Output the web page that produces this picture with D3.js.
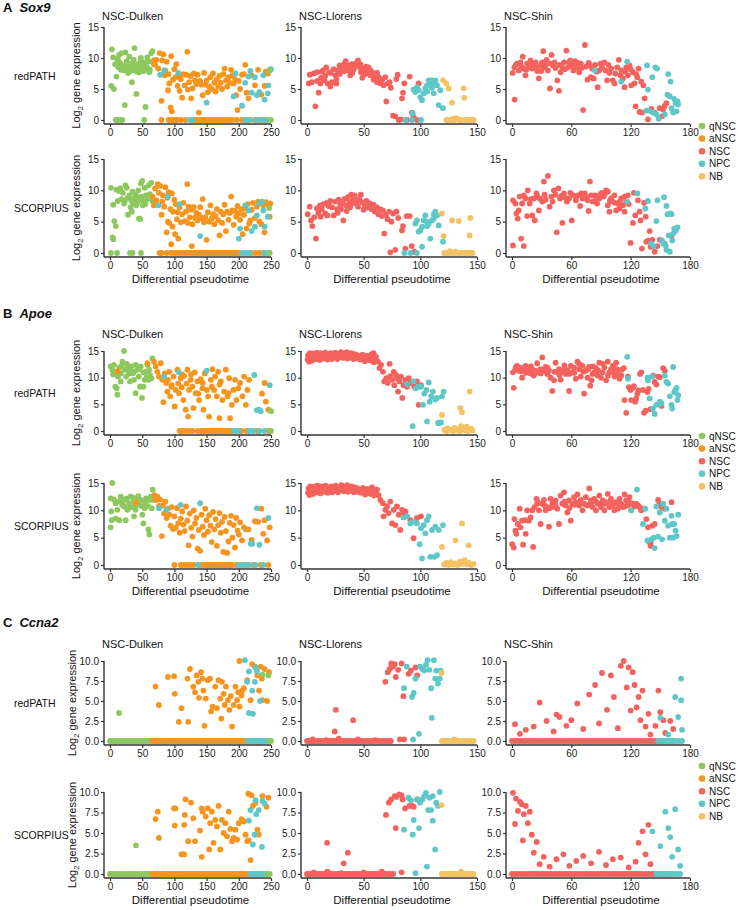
<!DOCTYPE html>
<html>
<head>
<meta charset="utf-8">
<script src="https://cdn.jsdelivr.net/npm/d3@7"></script>
<style>
  body { margin: 0; background: #fff; }
  svg { display: block; font-family: "Liberation Sans", Arial, sans-serif; }
</style>
</head>
<body>
<script>
// helpers to tag points with their cell type
function tag(t, list) { return list.map(d => [d[0], d[1], t]); }
function zeros(t, xs) { return xs.map(x => [x, 0, t]); }

const cellTypes = ["q", "a", "n", "p", "b"];
const cellLabels = ["qNSC", "aNSC", "NSC", "NPC", "NB"];
const cellColors = ["#8DC85F", "#F7941D", "#F4625E", "#5EC7C8", "#F3C262"];

const dulkenTicks = [0, 50, 100, 150, 200, 250];
const llorensTicks = [0, 50, 100, 150];
const shinTicks = [0, 60, 120, 180];
const sox9Ticks = [0, 5, 10, 15];
const apoeTicks = [0, 5, 10, 15];
const ccna2Ticks = [0, 2.5, 5, 7.5, 10];

// ---------------- Sox9 ----------------
const sox9DulkenRed = [
  ...tag("q", [[3,11.4],[2,5.5],[6,5.0],[5,10.1],[8,9.0],[10,7.0],[12,9.8],[14,10.5],[16,9.2],[18,10.8],[20,8.8],[22,8.0],[24,10.9],[26,9.5],[28,8.4],[30,10.2],[32,8.8],[34,6.1],[35,8.2],[37,9.7],[38,11.6],[40,8.6],[41,4.2],[42,7.8],[44,9.0],[46,8.3],[48,10.0],[50,8.7],[52,7.9],[54,9.3],[55,2.1],[57,8.5],[58,10.1],[60,9.4],[62,8.1],[64,10.8],[66,11.1],[68,9.0],[23,2.4],[28,7.6],[45,7.7],[36,8.0],[31,7.9],[39,8.9],[49,8.1],[59,8.3],[13,8.5],[17,8.1],[25,8.6],[33,9.1],[43,8.4],[47,9.4],[53,8.2],[61,7.7]]),
  ...zeros("q", [9,12,15,19,53]),
  ...tag("a", [[68,9.6],[70,8.9],[72,9.7],[75,8.3],[77,10.8],[80,3.1],[81,9.6],[83,10.6],[85,7.2],[86,8.0],[88,9.4],[90,4.8],[91,7.4],[92,5.9],[94,2.0],[95,10.3],[96,1.4],[98,6.5],[100,8.2],[102,6.9],[103,9.0],[105,5.5],[107,7.2],[108,4.7],[110,6.6],[112,3.6],[114,7.4],[116,5.6],[118,7.3],[120,11.0],[121,4.9],[123,6.1],[125,7.1],[126,3.5],[128,5.1],[130,7.5],[132,6.4],[134,5.8],[136,7.3],[138,1.2],[140,6.3],[142,5.7],[144,4.0],[146,7.6],[148,5.7],[150,6.4],[152,4.5],[154,5.4],[156,6.9],[158,5.0],[160,7.5],[162,6.0],[164,4.6],[166,6.6],[168,5.4],[170,7.1],[172,6.0],[174,5.0],[176,7.4],[178,8.3],[180,6.4],[182,5.4],[184,6.9],[186,6.0],[188,8.1],[190,7.2],[192,5.9],[194,6.6],[196,4.0],[198,1.6],[200,6.3],[202,5.0],[205,7.3],[208,7.4],[210,8.9],[212,4.4],[215,3.5],[220,7.2],[225,5.6],[230,8.1],[235,4.1],[240,5.5],[242,7.8],[245,7.5],[248,8.1]]),
  ...zeros("a", [80,91,96,100,104,110,117,130,134,138,142,146,150,154,158,162,166,170,174,178,182,186,190,197,205,210,215,225,232,240]),
  ...tag("p", [[84,8.0],[78,7.3],[106,7.6],[150,2.8],[192,3.8],[195,7.5],[205,2.3],[210,6.0],[215,7.0],[218,7.9],[220,4.4],[225,6.9],[228,4.0],[232,4.5],[238,7.2],[240,3.3],[245,4.3],[246,5.6],[250,8.2]]),
  ...zeros("p", [124,128,210,218,228,236,244]),
  ...tag("q", [[250,0],[248,8.0]])
];

const sox9DulkenScorp = [
  ...tag("q", [[1.5,10.4],[5,7.7],[6.7,5.1],[9,4.3],[4,2.5],[5,2.2],[10,10.1],[12,8.3],[14,9.9],[16,10.3],[18,8.6],[20,9.6],[22,7.9],[24,10.8],[26,10.4],[27,8.8],[28,6.1],[30,9.2],[32,7.3],[33,8.4],[35,9.8],[36,7.9],[38,8.7],[40,9.3],[41,7.6],[43,8.1],[44,10.0],[45,5.5],[46,8.5],[47,5.4],[48,11.1],[49,9.0],[50,11.5],[51,7.6],[52,8.3],[54,10.4],[55,7.8],[56,9.2],[58,8.6],[60,10.8],[62,9.4],[64,11.2],[66,8.3],[23,8.3],[34,6.6],[39,8.0],[42,8.9]]),
  ...zeros("q", [1.5,11,31,35,48]),
  ...tag("a", [[66,9.0],[68,7.6],[70,10.3],[72,8.4],[74,11.0],[76,9.6],[78,10.7],[80,6.1],[81,8.2],[82,9.2],[84,7.4],[86,10.5],[88,3.3],[89,8.8],[90,5.0],[91,9.7],[92,4.8],[94,7.0],[95,1.4],[96,9.5],[97,4.2],[98,6.6],[100,8.5],[101,3.0],[102,7.8],[104,5.4],[105,6.5],[106,2.3],[108,7.3],[110,4.9],[112,6.2],[114,8.0],[116,5.1],[118,6.6],[120,11.0],[121,4.8],[122,7.4],[124,5.7],[126,6.9],[127,1.1],[128,4.6],[130,7.3],[132,5.6],[134,6.4],[136,5.2],[138,6.1],[140,7.3],[142,5.6],[144,8.6],[146,4.9],[148,5.7],[150,2.1],[152,6.5],[154,5.0],[156,7.6],[158,5.5],[160,6.2],[162,4.6],[164,5.9],[166,7.0],[168,5.2],[170,2.8],[172,6.6],[174,4.8],[176,6.2],[178,7.7],[180,3.5],[182,6.6],[184,5.3],[186,6.4],[188,9.0],[190,6.8],[192,4.5],[194,6.7],[196,5.8],[198,7.5],[200,6.3],[202,5.3],[204,7.0],[206,3.0],[208,6.1],[210,7.1],[212,3.9],[214,7.8],[216,4.7],[218,5.2],[220,6.9],[222,8.0],[225,5.6],[228,7.4],[230,8.2],[232,5.0],[235,4.6],[238,7.6],[240,3.3],[242,8.1],[245,7.8],[248,5.8],[249,7.9]]),
  ...zeros("a", [77,80,88,95,100,104,108,113,117,122,127,131,134,137,140,143,146,149,152,155,158,161,164,167,170,173,176,179,182,185,188,191,194,197,200,220,226,232,238]),
  ...tag("p", [[90,9.0],[75,7.6],[108,7.8],[140,2.7],[200,2.3],[202,3.9],[210,7.6],[215,6.8],[220,3.5],[225,4.2],[228,6.0],[232,7.9],[238,6.8],[240,4.2],[245,5.8],[236,8.2]]),
  ...zeros("p", [205,209,213,217,240,244]),
  ...tag("q", [[248,0],[247,7.2]])
];

const sox9LlorensRed = [
  ...tag("n", [[1.5,5.9],[2.4,7.3],[4.4,6.1],[5.9,7.5],[7.4,2.2],[8.8,7.7],[10.3,4.4],[11.8,5.9],[12.4,6.8],[14.1,8.0],[15.3,6.4],[17,8.5],[18.2,5.9],[19.4,7.7],[20.6,5.4],[22,6.1],[23.5,8.2],[25,7.2],[25.9,5.9],[27,8.0],[28.8,8.8],[30,7.9],[31.8,8.2],[32.9,9.0],[34.1,9.5],[35.3,8.5],[36.2,8.0],[37.4,8.8],[38.2,7.2],[39.7,9.0],[41.2,8.2],[42.6,8.8],[44,9.3],[45,9.6],[46.5,8.5],[47.6,7.7],[48.8,6.8],[50,8.2],[51.5,7.4],[53,8.0],[54.4,8.5],[55.9,7.2],[57.4,7.7],[58.8,6.5],[60.3,7.3],[61.8,6.1],[63.2,6.9],[64.7,5.9],[66.2,6.4],[67.6,5.6],[69.1,6.9],[70,3.0],[71.2,5.9],[72.9,6.1],[74,5.2],[75.9,0.7],[77.9,0.6],[78.8,6.6],[80,7.3],[80.9,0],[82.9,0.1],[83.8,3.5],[84.7,4.4],[85.9,5.9],[88.2,0],[90.6,7.0],[92.6,1.2],[94,0.5],[97,0],[98.5,5.9],[21,7.6],[26,6.6],[29,7.4],[33,7.9],[38,8.4],[40,7.6],[43,9.1],[47,9.0],[49,7.8],[52,8.6],[56,8.0],[59,7.1],[62,7.6],[65,6.6],[16,7.1],[13,7.8],[9,6.3]]),
  ...tag("p", [[94,4.9],[95.6,4.5],[97,5.3],[98.5,4.8],[100,3.7],[101.5,3.2],[103,4.3],[104.4,5.1],[105.9,5.6],[107.4,6.4],[108.8,5.9],[110.3,5.2],[111.8,4.3],[113.2,6.4],[114.7,5.6],[116.2,2.4],[117.6,4.8],[120,1.9],[93.2,1.1],[106,4.6],[110,6.4],[112,5.6]]),
  ...zeros("p", [86.8,92.6,100.6]),
  ...tag("b", [[120,6.4],[122.9,5.9],[125,5.1],[127.9,2.8],[138.2,5.1],[138.8,3.6],[132,0.3],[129,0.2]]),
  ...zeros("b", [123,125,127,130,134,136,139,141,143,145,147])
];

const sox9LlorensScorp = [
  ...tag("n", [[0.6,6.2],[2.4,7.4],[3.5,5.2],[4.7,4.3],[6.5,5.7],[7.9,2.3],[8.8,7.1],[10,6.4],[11.5,7.6],[13,7.0],[14.5,7.8],[16,6.3],[17.5,8.0],[19,7.5],[20.5,8.3],[22,7.3],[23.5,6.0],[25,8.2],[26.5,7.0],[28,8.5],[29.5,7.7],[31,8.1],[32,5.2],[33,8.6],[34.5,7.6],[36,8.9],[37.5,8.2],[39,9.3],[40,7.9],[41,8.7],[42,9.2],[43.5,8.0],[45,7.4],[46,8.6],[47.5,9.3],[48.5,8.1],[50,6.9],[51,7.7],[52.5,8.3],[54,7.3],[55.5,7.9],[57,7.0],[58.5,7.7],[60,6.6],[61.5,7.3],[63,6.2],[64.5,7.0],[66,5.9],[67,6.8],[68.2,3.1],[69.5,6.1],[71,5.4],[72.5,6.6],[73.5,0.1],[74.5,5.0],[76,6.3],[77.9,0.5],[79,6.6],[80.5,5.6],[83.8,3.6],[84.7,4.3],[86.8,0.7],[88,5.9],[90.6,5.9],[92.4,1.1],[94.7,0.2],[27,6.4],[35,6.7],[44,8.4],[38,7.3],[53,7.6],[30,7.0],[18,6.0],[12,5.8]]),
  ...tag("p", [[95.6,4.7],[97,5.2],[98.5,3.4],[100,3.6],[101.5,4.2],[103,5.2],[104.4,6.0],[105.9,5.0],[107.4,4.7],[108.8,2.3],[110.3,5.2],[111.8,5.5],[113.2,6.6],[114.7,6.0],[116.2,4.4],[120,1.8],[101.5,1.0],[106,4.3],[112,6.2]]),
  ...zeros("p", [85.9,91.2,97]),
  ...tag("b", [[119,6.3],[120.6,2.7],[128,5.2],[133.8,5.1],[143.5,2.8],[144.1,5.6],[126,0.3],[131,0.2]]),
  ...zeros("b", [121,123,125,128,130,133,135,137,139,141,143,145,146])
];

const sox9ShinRed = [
  ...tag("n", [[0.7,7.6],[2.4,8.5],[2.7,3.3],[5,9.1],[6.8,8.0],[8.5,9.3],[10.9,10.2],[11.9,8.3],[13.6,7.2],[15.3,9.1],[17,8.5],[18.7,9.6],[20.4,8.3],[22,8.8],[23.8,9.3],[25.5,7.9],[27.2,6.7],[28.9,8.8],[30.6,9.3],[31.6,11.1],[32.9,8.5],[35,9.7],[36.3,8.0],[38.4,5.1],[40,10.5],[41.4,8.8],[43.1,9.3],[45.8,6.4],[47.5,4.7],[49.2,7.7],[50.9,8.5],[52.6,9.3],[55,11.2],[56.7,8.5],[58.8,9.6],[60.4,9.1],[62.1,8.0],[63.8,9.5],[65.5,8.5],[67.9,7.7],[69.6,9.1],[71.9,1.6],[73.7,12.1],[74.7,8.6],[76.4,6.5],[78.8,8.8],[79.8,6.9],[82.5,6.7],[84.2,8.9],[86.6,5.3],[88.3,8.0],[91,8.5],[93.4,9.3],[96.1,6.4],[98.5,7.6],[100.2,8.3],[101.9,6.4],[103.6,5.9],[106.3,8.5],[108,9.7],[109.7,7.2],[112.1,6.7],[113.8,5.3],[115.5,8.5],[117.2,7.2],[118.8,8.8],[120.6,5.6],[122.3,7.7],[123.9,5.9],[125,2.2],[126.7,6.9],[128,8.3],[129,1.3],[130.7,6.2],[131.4,1.2],[132.8,5.6],[134.1,3.5],[137.5,0.1],[140.9,1.8],[144.3,1.2],[149.4,1.9],[151.8,0.6],[154.5,2.3],[156.2,2.7],[152.8,1.7],[4,8.9],[9.5,8.6],[14.5,8.1],[19.5,8.9],[24.5,8.5],[29.5,7.9],[34,8.9],[39,9.1],[44,8.4],[48,8.9],[53.5,8.2],[57.5,9.3],[61.5,8.7],[66.5,9.2],[70.5,8.4],[77.5,9.2],[81,8.3],[85.5,7.8],[89.5,9.1],[94.5,8.0],[97.5,8.9],[104.5,7.5],[110.5,8.0],[114.5,7.8],[120,8.2],[125.5,7.4]]),
  ...tag("p", [[83.9,8.0],[110.4,6.2],[116.5,9.4],[136.5,8.8],[137.5,4.9],[141.9,6.9],[145,8.5],[146.7,8.3],[135.8,1.5],[140.2,1.4],[142.6,1.2],[146,0.9],[148.4,0.2],[154.5,0.9],[157.2,4.1],[157.9,7.4],[159.6,3.8],[160.3,6.2],[161.3,1.9],[163,1.2],[164,3.4],[165.4,2.7],[166.4,1.4],[167.4,3.0],[168.1,2.5]])
];

const sox9ShinScorp = [
  ...tag("n", [[1,1.2],[1,8.4],[3.4,7.9],[4.4,6.3],[5.8,5.5],[6.8,6.8],[7.8,9.0],[9.2,2.3],[11.9,1.1],[10.2,7.9],[13.6,8.7],[15.3,5.9],[16,10.0],[17.9,7.9],[20.4,6.0],[22,8.7],[23.1,5.2],[24.8,9.5],[27.2,6.8],[28.2,8.7],[30.6,8.2],[32.3,11.4],[34,8.5],[36.3,12.3],[38,7.4],[39.7,9.0],[42.4,10.0],[45.2,3.3],[46.9,10.3],[48.6,8.7],[50.9,4.8],[52.6,9.5],[55.4,8.2],[57.7,8.7],[60.4,5.2],[62.1,9.2],[64.5,8.4],[66.9,9.2],[68.9,7.5],[71.3,8.7],[73.7,9.5],[76.4,8.4],[78.8,11.4],[77.5,6.7],[81.5,8.2],[83.9,9.2],[86,7.9],[88.3,8.7],[90.7,9.6],[92.7,9.0],[95.1,10.0],[96.8,7.6],[98.5,6.6],[100.2,8.7],[101.9,8.2],[103.6,9.2],[105.3,6.8],[107,7.9],[108.7,7.1],[110.4,8.7],[112.1,7.6],[113.8,6.6],[115.5,8.2],[117.2,9.2],[119.9,1.6],[122.3,4.8],[123.3,9.6],[124.6,6.0],[127.4,8.4],[129,6.6],[130,5.2],[131.4,0.7],[133.5,8.0],[135.2,5.8],[135.8,1.8],[138.2,2.0],[139.2,3.5],[140.2,1.0],[141.9,2.1],[144.3,0.2],[147,1.1],[149.4,2.1],[161.3,2.8],[12,9.2],[19,8.6],[26,8.9],[33,9.3],[41,8.2],[44,9.3],[50,9.1],[54,8.8],[59,9.6],[65,8.9],[70,9.5],[75,9.0],[80,9.2],[85,8.5],[89,9.3],[94,9.5],[97,9.8],[99,8.3],[104,8.0],[109,8.2],[114,9.0],[118,7.8]]),
  ...tag("p", [[116.5,8.2],[126.7,9.5],[134.8,7.1],[137.5,8.3],[140.9,1.5],[143.3,1.1],[146,5.1],[147,8.4],[151.8,2.0],[153.8,8.9],[154.5,1.5],[155.5,1.1],[156.2,7.5],[157.2,6.2],[158.5,2.8],[159.6,0.2],[160.3,6.3],[161.3,6.2],[162,2.0],[163,3.1],[164,3.9],[165.7,3.6],[167.4,4.1],[152.8,1.5],[156.2,0.5]])
];

// ---------------- Apoe ----------------
const apoeDulkenRed = [
  ...tag("q", [[1,12.1],[3.6,11.5],[6.2,12.4],[8.8,11.1],[10.4,8.0],[11.4,6.8],[12.4,10.2],[14.5,11.9],[16.6,10.8],[19.2,13.0],[21.8,15.0],[22.8,11.5],[24.9,10.2],[27,11.9],[29.5,10.8],[31.1,9.3],[33.2,12.1],[35.2,10.8],[37.3,9.6],[39.9,7.1],[42.5,11.5],[44.6,10.2],[46.6,8.3],[47.7,12.1],[49.7,6.2],[51.8,8.3],[53.9,9.6],[55.4,11.1],[58,12.4],[60.6,11.5],[62.2,10.5],[64.2,9.9],[65.8,13.6],[57,10.1],[37.3,11.1],[16.6,9.3],[8.3,8.3],[5,10.6],[18,12.2],[26,12.6],[30,11.4],[40,12.4],[45,11.6],[52,11.0],[60,9.6]]),
  ...tag("a", [[12,11.2],[58,12.7],[68.4,13.0],[71,12.1],[73.6,11.1],[76.2,10.2],[78.8,12.7],[81.3,9.6],[82.9,5.4],[85,10.8],[87.6,9.0],[89.1,7.4],[91.7,11.1],[93.3,6.5],[95.3,8.3],[98.4,10.2],[100.5,4.6],[102,7.7],[104.7,11.5],[107.3,7.1],[109.8,9.9],[111.4,8.2],[114,5.8],[115,10.3],[117.6,4.0],[120.2,11.5],[121.2,2.7],[122.8,7.7],[125.4,9.6],[128,8.3],[129.5,4.3],[131.6,11.0],[133.2,7.1],[135.8,9.3],[138.3,5.8],[140.9,9.7],[143.5,8.0],[145.1,4.0],[147.2,10.8],[150.3,7.7],[152.3,6.5],[153.9,2.7],[156.5,9.6],[159,11.6],[161.7,7.7],[163.2,10.2],[165.8,6.5],[167.9,11.1],[170,2.4],[172,9.3],[174.6,5.8],[177.2,7.4],[179.8,11.5],[182.4,6.5],[185,9.9],[186.5,2.4],[189.1,4.9],[191.7,7.7],[194.3,9.6],[196.4,5.8],[199,8.0],[202,9.0],[205.7,6.5],[208.3,10.2],[210.9,4.9],[213.5,7.7],[216,9.6],[236,7.0],[240,9.0],[242,5.5],[246,4.0],[90,9.6],[96,8.6],[106,8.9],[112,10.6],[119,8.9],[126,10.6],[137,7.0],[144,9.0],[158,8.3],[170,8.7],[184,7.1]]),
  ...zeros("a", [108,112,116,122,128,136,141,145,149,152,155,158,161,164,167,170,173,176,179,182,185,188,196,204,212,228,246]),
  ...tag("p", [[84,10.2],[107,11.0],[150,11.3],[224,10.5],[231.6,4.0],[228,3.9],[234,3.7],[248,8.6]]),
  ...zeros("p", [192,200,216,222,232,240]),
  ...tag("q", [[250,3.7],[250,0]])
];

const apoeDulkenScorp = [
  ...tag("q", [[3.6,15.0],[1,12.2],[2,9.8],[2.6,8.2],[1,6.9],[8.8,8.5],[11.4,10.1],[14,11.6],[16.6,12.5],[19.2,11.0],[21.8,11.9],[24.4,8.2],[27,10.1],[29.5,11.3],[32.1,12.5],[34.7,10.6],[37.3,11.6],[39.9,10.1],[42.5,12.2],[45,11.0],[47.7,11.9],[50.3,9.2],[51.8,7.6],[53.9,10.4],[56,12.2],[58,10.8],[59.6,6.5],[61.1,5.6],[63.2,12.5],[64.8,10.4],[66.3,13.8],[67.4,11.9],[21.8,10.7],[37.3,8.9],[14.5,8.2],[8.8,11.3],[6,12.0],[26,12.2],[31,10.6],[36,12.3],[41,11.1],[44,12.6],[49,10.8],[55,11.4],[61,11.9],[211,6.5]]),
  ...tag("a", [[40,11.4],[69,12.8],[71,11.9],[73.5,12.5],[76,10.8],[78,12.0],[80.5,5.3],[82,10.9],[84,9.4],[86,11.6],[88,8.6],[90,10.3],[92,9.2],[94,7.2],[96,10.6],[98,6.6],[100,8.9],[102,6.8],[104,10.4],[106,7.6],[108,5.9],[110,8.5],[112,9.8],[114,7.4],[116,6.2],[118,10.7],[120,8.1],[122,3.6],[124,9.4],[126,6.8],[128,5.2],[130,10.0],[132,7.6],[134,8.6],[136,3.0],[138,6.4],[140,2.6],[142,9.2],[144,7.0],[146,5.5],[148,10.3],[150,8.2],[152,6.1],[154,9.1],[156,7.2],[158,4.2],[160,9.7],[162,6.5],[164,8.4],[166,3.5],[168,7.3],[170,9.5],[172,5.9],[174,7.9],[176,2.4],[178,8.8],[180,6.2],[182,2.2],[184,4.3],[186,7.7],[188,9.0],[190,5.0],[192,7.3],[194,3.2],[196,8.6],[198,6.3],[200,5.6],[202,7.8],[205,4.5],[208,6.9],[215,6.5],[220,4.6],[225,8.0],[230,7.9],[235,10.3],[238,5.7],[240,8.2],[244,4.5],[248,6.9]]),
  ...zeros("a", [100,110,115,120,125,130,140,144,148,151,154,157,160,163,166,169,172,175,178,181,184,187,190,196,205,212,222,234,246]),
  ...tag("p", [[76.2,10.4],[87.6,10.1],[109.8,11.0],[140,11.3],[228,10.4],[218.7,3.9],[221,3.9],[232,3.7],[246,8.6]]),
  ...zeros("p", [137,200,208,216,226,238])
];

const llorensApoeBand = [[0.5,13.4],[1,14.2],[1.8,13.0],[2.5,14.6],[3,13.7],[4,14.1],[4.8,13.2],[5.5,14.5],[6.3,13.8],[7,14.3],[8,13.5],[8.7,14.7],[9.5,13.9],[10.5,14.2],[11.3,13.3],[12,14.6],[13,13.8],[14,14.3],[15,13.6],[16,14.7],[17,14.0],[18,13.4],[19,14.4],[20,13.9],[21,14.6],[22,13.5],[23,14.2],[24,13.8],[25,14.7],[26,14.1],[27,13.5],[28,14.4],[29,13.9],[30,14.8],[31,14.2],[32,13.7],[33,14.5],[34,14.0],[35,14.8],[36,13.6],[37,14.3],[38,13.9],[39,14.6],[40,14.1],[41,13.5],[42,14.4],[43,13.8],[44,14.2],[45,13.6],[46,14.0],[47,13.4],[48,13.9],[49,14.3],[50,13.5],[51,13.1],[52,13.8],[53,14.1],[54,13.4],[55,13.9],[56,13.2],[57,14.4],[58,13.7],[59,12.9],[60,13.5]];

const apoeLlorensRed = [
  ...tag("n", llorensApoeBand),
  ...tag("n", [[58.8,14.6],[61,13.9],[62.6,13.0],[64,11.8],[65.3,12.4],[67,11.1],[68.2,9.3],[70,9.9],[71.2,9.0],[72.9,12.6],[73.5,10.3],[75,9.6],[76.5,11.1],[77,8.6],[78.5,10.5],[79.4,9.9],[80.3,7.4],[81.5,9.3],[82.9,10.2],[84.1,6.2],[85.3,8.6],[86.8,9.6],[88.2,8.3],[89.7,9.9],[90.6,9.0],[93.2,9.0],[94.7,8.3],[97,9.3],[98.5,4.9],[100.6,8.6]]),
  ...tag("p", [[88.2,8.8],[93.2,0.9],[94,9.3],[96,8.0],[98.5,8.3],[100.6,8.3],[102.4,4.9],[103.5,7.0],[105.3,7.7],[105.9,1.8],[107.4,9.1],[108.2,5.5],[109.7,6.5],[111.2,7.4],[113.2,5.9],[114.7,6.2],[115.6,1.5],[117,1.5],[118.2,1.6],[119.1,6.5],[120.6,7.4]]),
  ...tag("b", [[119.1,3.0],[121.2,0.2],[124,0.5],[127,0.2],[130,0.6],[133,0.1],[136,0.9],[138,0.3],[141,0.8],[144,0.2],[146,0.1],[135.3,4.3],[136.8,3.5],[143.5,7.4],[123,0],[126,0.1],[129,0],[132,0.3],[135,0],[140,0.1],[142,0],[145,0.4]])
];

const apoeLlorensScorp = [
  ...tag("n", llorensApoeBand.map(d => [d[0] + 0.4, d[1] - 0.2])),
  ...tag("n", [[61.8,13.8],[63.2,12.8],[64.7,11.9],[67,11.3],[67.6,8.9],[69.1,10.1],[70.6,10.7],[72,9.5],[73.5,11.6],[75,7.6],[76.5,10.1],[77.9,7.3],[79.4,10.7],[80.9,9.2],[82.3,6.4],[83.8,10.1],[85.3,9.5],[86.8,9.8],[88.2,8.9],[91.2,8.2],[94,4.9],[97,8.6],[100.6,8.9]]),
  ...tag("p", [[85.3,8.7],[88.2,8.9],[91.2,7.6],[94,7.9],[97,7.6],[99.4,3.8],[100.6,6.7],[101.5,1.2],[103,7.3],[104.4,5.8],[105.9,8.2],[107.4,8.9],[108.8,1.5],[110.3,6.4],[112.4,1.5],[113.2,7.0],[114.7,1.8],[116.2,6.4],[120,7.3]]),
  ...tag("b", [[119.1,3.3],[130.9,4.5],[136.8,7.6],[142.6,3.6],[121,0.1],[123,0.4],[125,0],[127,0.5],[129,0.1],[131,0.3],[133,0],[135,0.6],[137,0.2],[139,0.9],[141,0.1],[143,0.4],[145,0],[147,0.2]])
];

const apoeShinRed = [
  ...tag("n", [[1,11.0],[1.7,8.1],[3.4,11.6],[5.1,12.2],[6.8,11.3],[8.5,11.9],[10.2,10.0],[11.9,11.6],[13.6,12.2],[15.3,11.3],[17,11.9],[18.7,10.8],[20.4,11.6],[22,10.4],[23.8,11.3],[25.5,12.7],[27.2,11.0],[28.9,11.6],[30.6,13.8],[32.3,11.3],[34,12.0],[35.7,10.7],[37.4,11.3],[39,10.0],[40.8,7.5],[42.5,9.5],[44.1,12.8],[45.8,11.0],[47.5,11.6],[49.2,9.6],[50.9,11.0],[52.6,11.6],[54.3,10.7],[56,11.4],[57.7,7.5],[59.4,12.2],[61.1,11.0],[62.8,11.9],[64.5,9.8],[66.2,13.0],[67.9,11.6],[69.6,10.2],[71.3,12.2],[73,7.0],[74.7,11.3],[76.4,10.0],[78.1,12.0],[79.1,8.5],[80.5,9.5],[81.5,10.7],[83.2,11.0],[84.9,11.8],[86.6,10.4],[88.3,12.8],[90,10.0],[91.7,11.0],[93.4,11.9],[95.1,9.5],[96.8,13.0],[98.5,11.0],[100.2,11.6],[101.9,12.2],[103.6,10.2],[105.3,12.8],[107,10.7],[108.7,9.8],[110.4,10.4],[113.1,11.8],[113.8,5.8],[115.5,3.4],[117.2,10.2],[118.2,8.2],[119.9,7.7],[120.6,5.8],[122.3,8.1],[123.3,8.4],[124.6,5.5],[125.6,6.1],[126.7,7.0],[128,7.6],[129.4,10.7],[130.7,11.0],[132.4,7.7],[133.5,3.4],[135.2,3.8],[136.9,7.3],[138.2,7.9],[140.2,4.1],[142.6,10.4],[144.3,9.2],[146,8.7],[147.7,10.2],[149.4,10.1],[151.1,4.7],[152.8,11.8],[154.5,11.3],[4,12.0],[9,11.2],[14,10.9],[19,12.1],[24,10.9],[29,10.8],[36,11.9],[43,11.1],[48,10.5],[53,12.3],[58,10.7],[63,10.9],[68,12.6],[72,11.1],[77,11.6],[82,12.1],[87,11.4],[92,12.6],[97,10.4],[102,11.0],[106,11.6],[111,11.5]]),
  ...tag("p", [[116.5,13.9],[137,10.0],[137.5,9.5],[139.2,6.1],[141.6,10.2],[142.6,4.2],[144.3,3.2],[146,4.9],[147.7,5.0],[149.4,5.5],[151.1,5.2],[154.5,10.4],[156.2,9.2],[157.9,8.9],[159.6,6.5],[161.3,4.9],[162,4.2],[163,12.0],[164,7.3],[165.4,7.7],[166.4,8.1],[167.4,5.8],[168.1,6.7],[117.2,9.8]])
];

const apoeShinScorp = [
  ...tag("n", [[0.3,3.8],[1.7,3.2],[2.4,8.4],[3.4,6.3],[4.4,5.7],[5.8,7.5],[7.8,10.3],[8.5,6.9],[10.2,8.1],[11.2,3.7],[12.9,8.2],[13.9,5.7],[15.3,10.0],[17,8.1],[18.7,8.7],[21.4,3.3],[20.4,10.0],[22.8,10.6],[24.8,12.1],[25.5,11.2],[27.2,10.0],[28.9,7.5],[30.6,11.2],[32.3,11.9],[34,10.0],[35.7,10.6],[37.4,7.0],[39,12.1],[40.8,11.2],[42.5,10.6],[44.1,11.8],[45.8,10.3],[47.5,7.5],[49.2,12.7],[50.9,11.2],[52.6,13.3],[54.3,10.9],[56,9.6],[57.7,11.8],[59.4,8.1],[61.1,11.2],[62.8,12.4],[64.5,11.5],[66.2,12.9],[67.9,10.9],[69.6,11.9],[71.3,10.0],[73,11.2],[74.7,12.4],[76.4,10.9],[78.1,14.0],[79.8,11.8],[81.5,10.6],[83.2,12.1],[84.9,10.0],[86.6,11.2],[88.3,12.7],[90,10.6],[91.7,11.8],[93.4,10.0],[95.1,11.5],[96.8,13.0],[98.5,10.6],[100.2,12.1],[101.9,10.9],[103.6,10.0],[105.3,11.5],[107,10.3],[108.7,12.1],[110.4,11.2],[112.1,10.6],[113.8,12.9],[115.5,11.8],[117.2,10.9],[118.8,12.4],[120.6,10.0],[122.3,11.2],[125.6,11.2],[127.4,10.9],[129,10.6],[130.7,10.0],[133.5,10.3],[135.8,8.4],[137.5,6.9],[139.2,4.1],[140.2,4.1],[141.9,7.2],[144.3,7.5],[147.7,11.9],[149.4,11.2],[151.1,10.6],[154.5,10.3],[161.3,11.5],[140.2,3.5],[26,11.5],[33,10.9],[38,10.4],[44,10.9],[53,11.6],[58,10.4],[63,11.0],[68,11.4],[75,11.0],[80,11.3],[85,11.6],[89,11.2],[94,11.2],[99,11.5],[104,11.3],[109,10.9],[114,10.7],[119,11.4],[124,10.7]]),
  ...tag("p", [[120.6,10.0],[126.4,13.8],[132.4,7.5],[134.8,10.3],[136.9,4.5],[141,4.7],[143.3,5.0],[144.3,3.1],[146,10.7],[147.7,5.2],[149.4,9.6],[151.8,4.7],[152.8,11.2],[154.5,8.1],[156.2,10.3],[157.9,7.2],[159.6,5.0],[161.3,9.0],[163,5.0],[164,7.5],[165.4,6.3],[166.4,5.3],[168.1,9.2],[162,7.5]])
];

// ---------------- Ccna2 ----------------
const ccna2DulkenRed = [
  ...zeros("q", [0,3,6,9,12,15,18,21,24,27,30,33,36,39,42,45,48,51,54,57,60,63]),
  ...tag("q", [[14,3.5]]),
  ...zeros("a", [66,69,72,75,78,81,84,87,90,93,96,99,102,105,108,111,114,117,120,123,126,129,132,135,138,141,144,147,150,153,156,159,162,165,168,171,174,177,180,183,186,189,192,195,198,201,204,207,210,213]),
  ...tag("a", [[70.7,6.8],[75.9,4.5],[90,8.0],[99.5,8.1],[100.5,5.9],[111,4.1],[106.8,2.4],[120.4,7.8],[124.1,9.0],[121.5,2.4],[129.3,6.8],[132,6.1],[134.6,8.2],[137.2,7.4],[138.2,5.4],[141.4,8.6],[143.5,7.8],[145,6.3],[146.6,1.9],[148.7,5.3],[151.8,7.6],[155.5,7.8],[157,3.7],[159.2,4.3],[163.4,6.8],[166,4.1],[168.6,7.6],[171.2,5.3],[172.8,2.8],[173.8,7.4],[176.4,5.9],[178,4.5],[180,6.8],[183.2,5.1],[185.3,3.9],[187.4,5.6],[189.5,1.8],[192.1,4.5],[194.8,6.8],[197.4,5.1],[199,6.1],[201,4.3],[204.2,5.7],[205.2,6.3],[207.9,6.6],[201,10.0],[213,7.6],[218.3,5.1],[220.9,9.6],[225,9.3],[228.8,8.2],[231.4,6.3],[234,9.3],[235.6,7.8],[236.6,5.1],[240,9.0],[244,5.0],[247,8.6]]),
  ...zeros("p", [214,217,220,223,226,229,232,235,238,241,244]),
  ...tag("p", [[209.4,10.1],[215.7,8.7],[213,7.4],[220.9,6.3],[215.7,3.5],[222,3.4],[226,9.2],[228,8.7],[225,7.4],[233,5.0]]),
  ...tag("q", [[237,8.3],[246,8.2],[248,0],[250,0]])
];

const ccna2DulkenScorp = [
  ...zeros("q", [0,3,6,9,12,15,18,21,24,27,30,33,36,39,42,45,48,51,54,57,60,63]),
  ...tag("q", [[40.3,3.5]]),
  ...zeros("a", [66,69,72,75,78,81,84,87,90,93,96,99,102,105,108,111,114,117,120,123,126,129,132,135,138,141,144,147,150,153,156,159,162,165,168,171,174,177,180,183,186,189,192,195,198,201,204,207,210,213,216]),
  ...tag("a", [[70.7,6.7],[75.9,4.4],[74.3,7.6],[99.5,8.0],[101.6,8.0],[100.5,5.9],[115.2,6.0],[116.2,7.2],[117.3,9.1],[111,2.4],[113.6,2.4],[115.2,2.4],[121.5,4.0],[125.7,8.7],[129.3,6.8],[132,4.0],[139.8,5.3],[142.4,8.0],[144,7.6],[142.4,2.1],[148.7,7.0],[151.8,8.0],[153.9,3.0],[155.5,6.2],[158.1,7.6],[160.7,3.8],[163.4,6.6],[166,5.8],[168.6,8.3],[171.2,3.0],[173.8,6.6],[176.4,5.0],[179,6.2],[181.7,4.6],[184.3,7.6],[186.9,5.5],[189.5,4.0],[192.1,4.4],[194.8,5.4],[197.4,4.2],[200,6.2],[204.2,6.7],[207.9,6.4],[210.5,4.8],[213.1,4.0],[215.2,4.1],[218.3,1.7],[214.7,9.8],[219.9,9.6],[222,8.3],[226,8.7],[228.8,5.4],[231,4.8],[236.6,9.5],[243,8.2],[246,9.3]]),
  ...zeros("p", [218,221,224,227,230,233,236,239,242]),
  ...tag("p", [[218,7.8],[222,3.6],[226,9.0],[231,7.8],[236.6,8.9],[215.7,6.5],[227,7.3],[224.6,4.8],[236,3.3],[240,8.6]]),
  ...tag("q", [[245,0],[248,0]])
];

const ccna2LlorensRed = [
  ...zeros("n", [0,2,4,6,8,10,12,14,16,18,20,22,24,26,28,30,32,34,36,38,40,42,44,46,48,50,52,54,56,58,60,62,64,66,68,70,72,74]),
  ...tag("n", [[5,0.2],[17,0.1],[28,0.3],[45,0.2],[60,0.1],[24.5,1.2],[25.4,3.9],[40.7,2.6],[69.1,7.4],[71.3,8.6],[74.3,9.7],[75.8,9.3],[77.4,9.6],[78.3,8.0],[80.4,8.9],[83.5,9.7],[85,5.6],[89.6,8.4],[91.7,8.8],[95.7,9.2],[97.2,8.2],[85.6,0.2],[82,0.2],[73,9.0]]),
  ...tag("p", [[88,9.3],[85.6,6.6],[92.7,5.5],[94.2,6.0],[95.7,7.8],[93.6,0.2],[98.8,0.9],[99.7,9.3],[101.8,9.0],[103.4,8.8],[104.9,9.5],[106.4,10.1],[108,8.9],[109.5,6.6],[110.1,2.9],[111.9,10.1],[113.1,7.8],[114,8.8],[115.6,7.2],[117.1,7.8],[118,8.8]]),
  ...tag("b", [[118.7,8.5],[130,0.2]]),
  ...zeros("b", [119,121,123,125,127,129,131,133,135,137,139,141,143,145,147])
];

const ccna2LlorensScorp = [
  ...zeros("n", [0,2,4,6,8,10,12,14,16,18,20,22,24,26,28,30,32,34,36,38,40,42,44,46,48,50,52,54,56,58,60,62,64,66,68,70,72,74,76]),
  ...tag("n", [[6,0.2],[18,0.3],[30,0.1],[50,0.2],[66,0.3],[17.7,3.8],[32.4,1.3],[36,2.6],[69.7,7.2],[72.2,8.7],[74.3,9.1],[77.4,9.5],[78.3,5.6],[78.9,9.4],[81.3,9.7],[83.5,9.6],[84.4,9.1],[86.5,8.0],[90.5,8.3],[92.7,8.3],[94.2,8.2],[97.2,9.1],[83.5,0.2]]),
  ...tag("p", [[85.6,5.4],[89.6,9.3],[91.7,9.0],[93.3,4.8],[94.2,6.6],[95.7,0.1],[97.2,9.1],[98.8,5.6],[99.7,8.7],[101.8,9.1],[103.4,9.5],[104.9,9.9],[105.8,0.9],[107,7.8],[108,9.3],[109.5,7.8],[111,6.5],[113.1,3.0],[114,8.7],[115.6,8.3],[117.1,10.0],[111,9.5]]),
  ...tag("b", [[118.7,8.4],[136,0.3]]),
  ...zeros("b", [119,121,123,125,127,129,131,133,135,137,139,141,143,145,147])
];

const ccna2ShinRed = [
  ...zeros("n", [0,3,6,9,12,15,18,21,24,27,30,33,36,39,42,45,48,51,54,57,60,63,66,69,72,75,78,81,84,87,90,93,96,99,102,105,108,111,114,117,120,123,126,129,132,135,138,141,144,147,150,153,156,159,162]),
  ...tag("n", [[3,2.1],[8,0.9],[14,1.4],[22,1.8],[28,4.8],[35,2.5],[42,1.2],[45,3.3],[48,3.0],[55,1.9],[60,2.6],[66,4.7],[72,1.5],[78,5.8],[84,7.0],[88,2.2],[91,8.5],[96,3.9],[100,8.2],[103,5.5],[107,1.6],[110,9.4],[113,10.0],[116,6.7],[118,9.2],[120,3.8],[122,8.6],[124,7.0],[126,4.2],[128,5.5],[130,2.6],[132,6.3],[135,1.8],[138,3.4],[140,0.8],[145,1.9],[148,6.3],[150,3.6],[153,2.6],[155,1.0],[160,2.5],[163,1.5]]),
  ...zeros("p", [148,151,154,157,160,163,166,169,172]),
  ...tag("p", [[150,2.9],[158,0.8],[165,5.5],[168,3.0],[171,7.8],[172,1.4],[171,5.1]])
];

const ccna2ShinScorp = [
  ...zeros("n", [0,3,6,9,12,15,18,21,24,27,30,33,36,39,42,45,48,51,54,57,60,63,66,69,72,75,78,81,84,87,90,93,96,99,102,105,108,111,114,117,120,123,126,129,132,135,138,141,144,147,150,153,156,159]),
  ...tag("n", [[1,9.9],[4,9.2],[6,7.7],[8,8.8],[3,6.1],[10,8.5],[12,7.3],[14,8.3],[16,6.2],[18,7.6],[11,4.1],[20,4.8],[22,2.6],[25,3.9],[28,1.2],[32,2.1],[38,0.9],[45,1.8],[52,2.4],[58,1.0],[65,1.6],[72,2.2],[80,1.3],[88,2.7],[95,1.1],[102,1.8],[110,2.0],[118,0.8],[125,1.5],[128,3.8],[132,5.2],[135,2.4],[138,6.0],[140,1.2]]),
  ...zeros("p", [146,149,152,155,158,161,164,167,170]),
  ...tag("p", [[142,5.2],[150,3.4],[155,7.6],[158,5.6],[160,4.5],[162,2.1],[165,7.9],[168,3.0],[170,1.0]])
];

// ---------------- layout ----------------
const columns = [
  { title: "NSC-Dulken", x0: 110, x1: 271, domain: [0, 250], ticks: dulkenTicks },
  { title: "NSC-Llorens", x0: 307, x1: 477, domain: [0, 150], ticks: llorensTicks },
  { title: "NSC-Shin", x0: 512, x1: 690, domain: [0, 180], ticks: shinTicks }
];

const sections = [
  { letter: "A", gene: "Sox9", headerY: 12, titleY: 20, yDomain: [0, 15], yTicks: sox9Ticks, fmt: d3.format("d"),
    rows: [[27, 120], [159, 253]], legendY: 126, yLabelX: 80,
    data: [[sox9DulkenRed, sox9LlorensRed, sox9ShinRed], [sox9DulkenScorp, sox9LlorensScorp, sox9ShinScorp]] },
  { letter: "B", gene: "Apoe", headerY: 318, titleY: 338, yDomain: [0, 15], yTicks: apoeTicks, fmt: d3.format("d"),
    rows: [[351, 431], [483, 565]], legendY: 436, yLabelX: 80,
    data: [[apoeDulkenRed, apoeLlorensRed, apoeShinRed], [apoeDulkenScorp, apoeLlorensScorp, apoeShinScorp]] },
  { letter: "C", gene: "Ccna2", headerY: 627, titleY: 648, yDomain: [0, 10], yTicks: ccna2Ticks, fmt: d3.format(".1f"),
    rows: [[661, 741], [792, 874]], legendY: 766, yLabelX: 76,
    data: [[ccna2DulkenRed, ccna2LlorensRed, ccna2ShinRed], [ccna2DulkenScorp, ccna2LlorensScorp, ccna2ShinScorp]] }
];

const methods = ["redPATH", "SCORPIUS"];
const color = d3.scaleOrdinal().domain(cellTypes).range(cellColors);

const svg = d3.select("body").append("svg").attr("width", 738).attr("height", 910);
const FONT = "'Liberation Sans', Arial, sans-serif";
const AX = "#333";
const LEGEND_X = 702;

function drawPanel(col, sec, top, bottom, data, isLastRow, colIdx) {
  const x = d3.scaleLinear().domain(col.domain).range([col.x0, col.x1]);
  const y = d3.scaleLinear().domain(sec.yDomain).range([bottom, top]);
  const axX = col.x0 - 6, axY = bottom + 4;
  const g = svg.append("g");

  // y axis
  const ya = g.append("g").attr("transform", `translate(${axX},0)`)
    .call(d3.axisLeft(y).tickValues(sec.yTicks).tickFormat(sec.fmt).tickSize(3).tickPadding(2));
  ya.select(".domain").remove();
  ya.append("line").attr("x1", 0).attr("x2", 0).attr("y1", top).attr("y2", axY)
    .attr("stroke", AX).attr("stroke-width", 1.4);

  // x axis
  const xa = g.append("g").attr("transform", `translate(0,${axY})`)
    .call(d3.axisBottom(x).tickValues(col.ticks).tickSize(3).tickPadding(2));
  xa.select(".domain").remove();
  xa.append("line").attr("x1", axX).attr("x2", col.x1).attr("y1", 0).attr("y2", 0)
    .attr("stroke", AX).attr("stroke-width", 1.4);

  [ya, xa].forEach(a => {
    a.attr("font-family", FONT).attr("font-size", 10);
    a.selectAll(".tick line").attr("stroke", AX).attr("stroke-width", 1.2);
    a.selectAll(".tick text").attr("fill", "#222");
  });

  // points
  g.append("g").selectAll("circle").data(data).join("circle")
    .attr("cx", d => x(d[0]))
    .attr("cy", d => y(d[1]))
    .attr("r", 2.9)
    .attr("fill", d => color(d[2]));

  if (colIdx === 0) {
    const mid = (top + axY) / 2;
    const t = svg.append("text")
      .attr("transform", `translate(${sec.yLabelX},${mid}) rotate(-90)`)
      .attr("text-anchor", "middle").attr("font-family", FONT).attr("font-size", 11).attr("fill", "#111");
    t.append("tspan").text("Log");
    t.append("tspan").text("2").attr("font-size", 7.5).attr("dy", 3);
    t.append("tspan").text(" gene expression").attr("dy", -3);
  }
  if (isLastRow) {
    svg.append("text").attr("x", (col.x0 + col.x1) / 2).attr("y", axY + 26)
      .attr("text-anchor", "middle").attr("font-family", FONT).attr("font-size", 11.5).attr("fill", "#111")
      .text("Differential pseudotime");
  }
}

sections.forEach(sec => {
  const h = svg.append("text").attr("x", 3).attr("y", sec.headerY)
    .attr("font-family", FONT).attr("font-size", 13).attr("font-weight", "bold").attr("fill", "#111");
  h.append("tspan").text(sec.letter);
  h.append("tspan").text(sec.gene).attr("dx", 7).attr("font-style", "italic");

  columns.forEach(col => {
    svg.append("text").attr("x", col.x0 - 8).attr("y", sec.titleY)
      .attr("font-family", FONT).attr("font-size", 11).attr("fill", "#111").text(col.title);
  });

  sec.rows.forEach((r, ri) => {
    svg.append("text").attr("x", 14).attr("y", (r[0] + r[1] + 4) / 2 + 4)
      .attr("font-family", FONT).attr("font-size", 10.5).attr("fill", "#111").text(methods[ri]);
    columns.forEach((col, ci) => drawPanel(col, sec, r[0], r[1], sec.data[ri][ci], ri === 1, ci));
  });

  // legend
  const lg = svg.append("g").attr("transform", `translate(${LEGEND_X},${sec.legendY})`);
  cellTypes.forEach((t, i) => {
    lg.append("circle").attr("cx", 0).attr("cy", i * 12.6).attr("r", 3.3).attr("fill", color(t));
    lg.append("text").attr("x", 7).attr("y", i * 12.6 + 3.6)
      .attr("font-family", FONT).attr("font-size", 10).attr("fill", "#111").text(cellLabels[i]);
  });
});
</script>
</body>
</html>
